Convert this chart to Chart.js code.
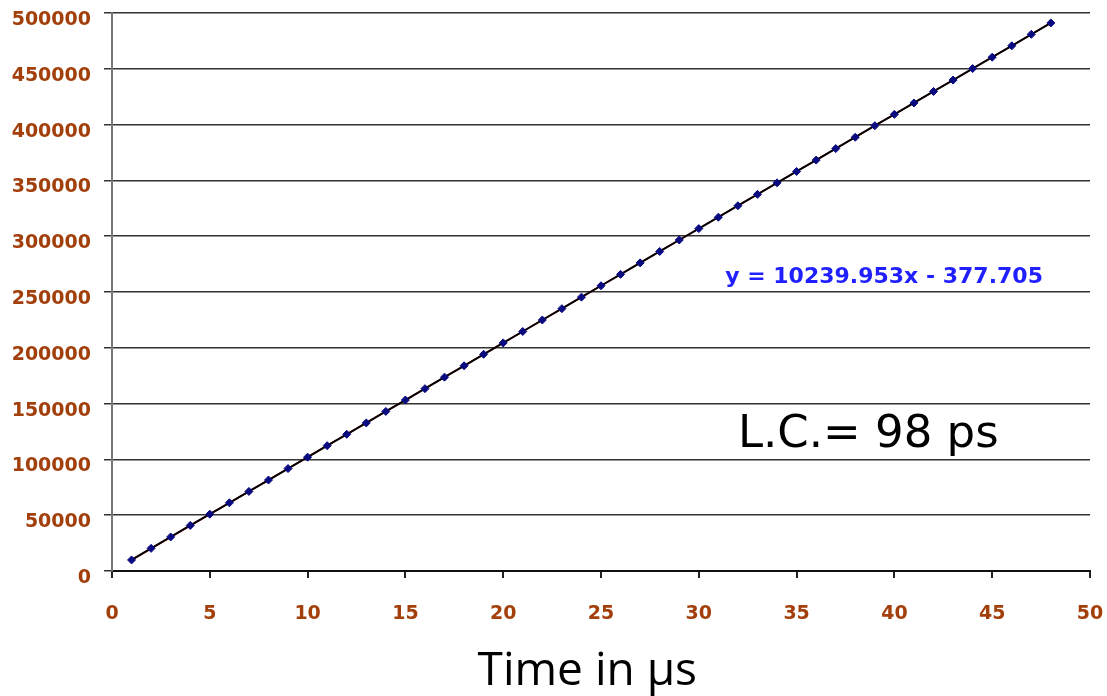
<!DOCTYPE html>
<html>
<head>
<meta charset="utf-8">
<script src="https://cdn.jsdelivr.net/npm/chart.js@4"></script>
<style>
  html, body { margin: 0; padding: 0; background: #fff; }
  #wrap { width: 1107px; height: 696px; position: relative; }
</style>
</head>
<body>
<div id="wrap"><canvas id="myChart" width="1107" height="696"></canvas></div>
<script>
// readings, time in µs vs counts
var timeValues = [1, 2, 3, 4, 5, 6, 7, 8, 9, 10, 11, 12, 13, 14, 15, 16, 17, 18, 19, 20, 21, 22, 23, 24,
    25, 26, 27, 28, 29, 30, 31, 32, 33, 34, 35, 36, 37, 38, 39, 40, 41, 42, 43, 44, 45, 46, 47, 48];
var countValues = [9900, 20300, 30500, 40800, 50900, 61100, 71300, 81500, 91800, 102000, 112300, 122500,
    132700, 143000, 153200, 163400, 173700, 183900, 194200, 204400, 214600, 224900, 235100, 245400,
    255600, 265800, 276100, 286300, 296600, 306800, 317000, 327300, 337500, 347800, 358000, 368200,
    378500, 388700, 399000, 409200, 419400, 429700, 439900, 450200, 460400, 470600, 480900, 491100];
// linear fit end points
var fitX = [1, 48];
var fitY = [9862, 491140];
var xTicks = [0, 5, 10, 15, 20, 25, 30, 35, 40, 45, 50];
var yTicks = [0, 50000, 100000, 150000, 200000, 250000, 300000, 350000, 400000, 450000, 500000];

var brown = '#a33f0b';
var tickFont = { family: '"DejaVu Sans", sans-serif', size: 19, weight: 'bold' };

const notes = {
    id: 'notes',
    afterDraw(chart) {
        const ctx = chart.ctx
        const x = chart.scales.x
        const y = chart.scales.y
        ctx.save()
        ctx.fillStyle = '#1f1fff'
        ctx.font = 'bold 22px "DejaVu Sans", sans-serif'
        ctx.textBaseline = 'middle'
        ctx.fillText('y = 10239.953x - 377.705', x.getPixelForValue(31.35), y.getPixelForValue(263500))
        ctx.fillStyle = '#000'
        ctx.font = '45px "DejaVu Sans", sans-serif'
        ctx.textBaseline = 'alphabetic'
        ctx.fillText('L.C.= 98 ps', x.getPixelForValue(32.0), y.getPixelForValue(111000))
        // axis title, a bit left of the plot centre
        ctx.font = '46px "Open Sans", sans-serif'
        ctx.textAlign = 'center'
        ctx.fillText('Time in µs', x.getPixelForValue(24.3), x.bottom - 11)
        ctx.restore()
    }
}

new Chart('myChart', {
    type: 'scatter',
    data: {
        datasets: [{
            data: fitX.map((v, i) => ({ x: v, y: fitY[i] })),
            showLine: true,
            borderColor: '#e01010',
            borderWidth: 1.5,
            pointRadius: 0,
            order: 2
        }, {
            data: timeValues.map((v, i) => ({ x: v, y: countValues[i] })),
            showLine: true,
            borderColor: '#000',
            borderWidth: 2,
            pointStyle: 'rectRot',
            pointRadius: 4,
            pointBackgroundColor: '#0a0a80',
            pointBorderColor: '#0a0a80',
            pointBorderWidth: 1,
            order: 1
        }]
    },
    options: {
        responsive: false,
        animation: false,
        layout: { padding: { top: 13, right: 17, left: 0, bottom: 0 } },
        plugins: { legend: { display: false }, tooltip: { enabled: false } },
        scales: {
            x: {
                type: 'linear',
                min: 0,
                max: 50,
                afterBuildTicks: (s) => { s.ticks = xTicks.map(v => ({ value: v })) },
                afterFit: (s) => { s.height = 125; s.paddingLeft = 0; s.paddingRight = 0 },
                grid: { drawOnChartArea: false, drawTicks: true, tickLength: 7, color: '#222', lineWidth: 2 },
                border: { color: '#111', width: 2 },
                ticks: { color: brown, font: tickFont, padding: 25, callback: (v) => String(v) }
            },
            y: {
                type: 'linear',
                min: 0,
                max: 500000,
                afterBuildTicks: (s) => { s.ticks = yTicks.map(v => ({ value: v })) },
                afterFit: (s) => { s.width = 112; s.paddingTop = 0; s.paddingBottom = 0 },
                grid: { color: '#333', lineWidth: 1.5, tickLength: 8 },
                border: { color: '#777', width: 2 },
                ticks: { color: brown, font: tickFont, padding: 13, labelOffset: 7, callback: (v) => String(v) }
            }
        }
    },
    plugins: [notes]
});
</script>
</body>
</html>
